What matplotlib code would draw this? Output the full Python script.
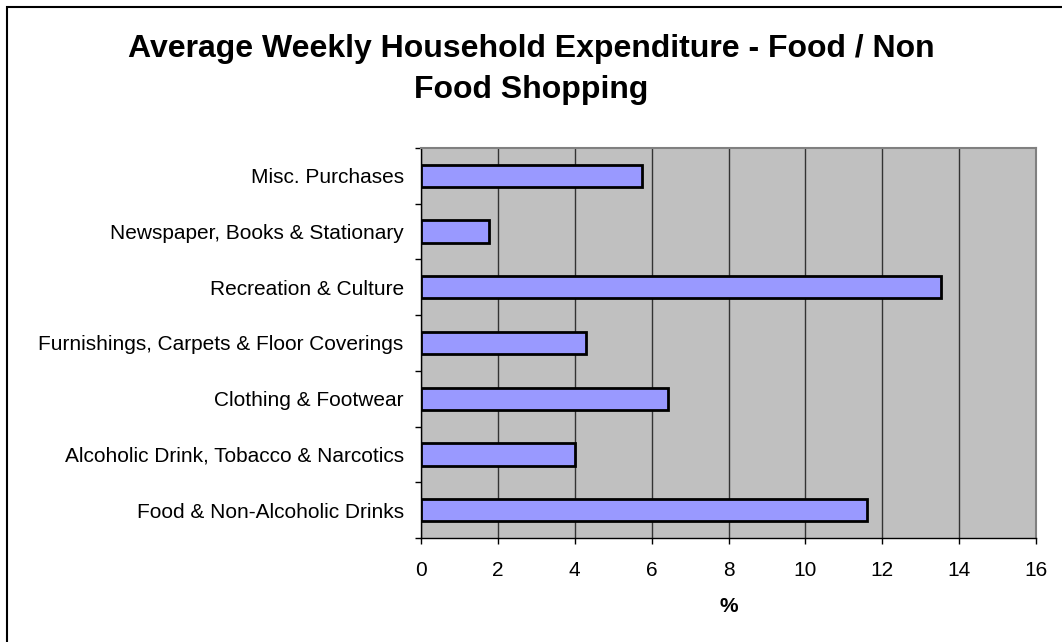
import matplotlib
matplotlib.use("Agg")
import matplotlib.pyplot as plt
from matplotlib.patches import Rectangle
import numpy as np

categories = [
    "Food & Non-Alcoholic Drinks",
    "Alcoholic Drink, Tobacco & Narcotics",
    "Clothing & Footwear",
    "Furnishings, Carpets & Floor Coverings",
    "Recreation & Culture",
    "Newspaper, Books & Stationary",
    "Misc. Purchases",
]
values = [11.6, 4.0, 6.43, 4.28, 13.53, 1.78, 5.74]
xticks = [0, 2, 4, 6, 8, 10, 12, 14, 16]
title_lines = ["Average Weekly Household Expenditure - Food / Non", "Food Shopping"]

plt.rcParams['font.family'] = ['Liberation Sans', 'DejaVu Sans']

W, H = 1062, 642
fig = plt.figure(figsize=(W/100, H/100), dpi=100)
fig.patch.set_facecolor('white')
ax = fig.add_axes([421/W, 1-538/H, (1036-421)/W, (538-148)/H])
ax.set_facecolor('#C0C0C0')

y = np.arange(len(categories))
ax.barh(y, values, height=0.4, color='#9999FF', edgecolor='black', linewidth=2, zorder=3)

ax.set_xlim(0, 16)
ax.set_ylim(-0.5, len(categories) - 0.5)
ax.set_xticks(xticks)
ax.set_xticklabels([str(t) for t in xticks], fontsize=15)
ax.set_yticks(y)
ax.set_yticklabels(categories, fontsize=15)
ax.tick_params(axis='y', length=0, pad=12.5)
ax.set_yticks(np.arange(-0.5, len(categories)), minor=True)
ax.tick_params(axis='y', which='minor', length=4.5, width=1, direction='out')
ax.tick_params(axis='x', length=4.5, width=1, direction='out', pad=12)

ax.grid(axis='x', color='#333333', linewidth=1, zorder=1)
ax.set_axisbelow(True)

for s in ['top', 'right']:
    ax.spines[s].set_color('#808080')
    ax.spines[s].set_linewidth(1.5)
for s in ['left', 'bottom']:
    ax.spines[s].set_color('black')
    ax.spines[s].set_linewidth(1)

ax.set_xlabel('%', fontsize=15, fontweight='bold', labelpad=12)

fig.text(0.5, 1-57/H, title_lines[0], ha='center', va='baseline',
         fontsize=23, fontweight='bold')
fig.text(0.5, 1-98/H, title_lines[1], ha='center', va='baseline',
         fontsize=23, fontweight='bold')

fig.patches.append(Rectangle((7/W, -0.1), 1.2, 1.1 - 7/H, transform=fig.transFigure,
                             fill=False, edgecolor='black', linewidth=1.5))

fig.savefig('out.png', dpi=100)
